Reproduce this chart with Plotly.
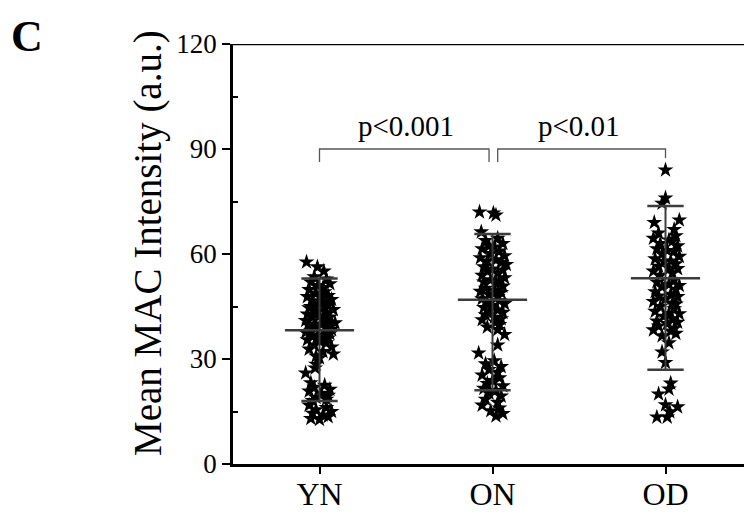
import plotly.graph_objects as go

# ---------------- data ----------------
categories = ["YN", "ON", "OD"]

yn_vals = [57.7, 56.3, 55.1,
           53.5, 52.8, 52.0, 51.5, 51.0, 50.4,
           49.8, 49.2, 48.7, 48.1, 47.8, 47.5, 47.0, 46.6, 46.1, 45.5, 45.3, 45.0,
           44.9, 44.6, 44.1, 43.7, 43.2, 42.8, 42.3, 42.0, 41.9, 41.4, 41.0, 40.5, 40.3, 40.0,
           39.9, 39.6, 39.2, 38.8, 38.4, 38.0, 37.9, 37.6, 37.2, 36.8, 36.6, 36.4, 36.0, 35.5, 35.1,
           34.6, 34.0, 33.4, 32.8, 32.1, 31.4, 30.8, 30.3,
           28.5, 27.4, 26.0,
           23.2, 22.5, 21.9, 21.3, 20.8, 20.2, 19.6, 19.0, 18.5, 18.1,
           16.8, 16.1, 15.5, 15.0, 14.5, 14.0, 13.5, 13.0, 12.7]
yn_jitter = [-0.075, -0.012, 0.025,
             -0.03, 0.04, -0.05, 0.06, -0.01, 0.02,
             -0.06, 0.03, -0.02, 0.05, -0.07, 0.01, 0.07, -0.04, 0.02, -0.01, 0.05, -0.05,
             0.03, -0.06, 0.08, -0.02, 0.04, -0.07, 0.0, 0.06, -0.04, 0.02, -0.08, 0.05, 0.09, -0.03,
             0.01, -0.06, 0.04, -0.02, 0.07, -0.05, 0.03, -0.08, 0.06, -0.01, 0.02, -0.04, 0.05, -0.07, 0.0,
             0.04, -0.03, 0.07, -0.06, 0.02, 0.08, -0.02, 0.0,
             -0.02, -0.025, -0.08,
             -0.05, 0.03, -0.03, 0.06, -0.06, 0.01, 0.05, -0.02, 0.04, -0.04,
             -0.06, 0.04, -0.02, 0.07, -0.04, 0.02, 0.05, -0.05, 0.0]

on_vals = [72.0, 71.7, 71.1, 66.3,
           64.5, 63.8, 63.0, 62.3, 62.0, 61.5, 60.8, 60.1, 59.5, 58.9, 58.3, 58.0, 57.6, 57.0,
           56.3, 55.7, 55.4, 55.1, 54.5, 53.9, 53.2, 52.6, 52.3, 52.0, 51.4, 50.8, 50.2, 49.6,
           49.3, 49.0, 48.4, 47.8, 47.2,
           46.6, 46.0, 45.8, 45.3, 44.7, 44.0, 43.7, 43.3, 42.6, 41.9, 41.5, 41.2, 40.5, 39.8,
           39.1, 38.4,
           37.0, 34.0, 31.7,
           29.5, 28.6, 27.8, 27.0, 26.2, 25.4, 24.6, 23.8, 23.0, 22.3, 21.6, 21.0,
           20.2, 19.4, 18.5, 17.6, 16.8, 16.0, 15.2, 14.4, 13.7]
on_jitter = [-0.075, 0.005, 0.02, -0.065,
             0.03, -0.04, 0.06, -0.02, 0.01, -0.06, 0.04, -0.01, 0.07, -0.07, 0.02, -0.03, 0.05, 0.08,
             -0.05, 0.0, 0.06, -0.03, 0.03, -0.06, 0.07, -0.01, 0.04, -0.05, 0.02, 0.06, -0.04, 0.01,
             -0.07, 0.05, -0.02, 0.03, -0.06,
             0.04, -0.03, 0.07, 0.0, -0.05, 0.03, -0.02, 0.06, -0.04, 0.01, 0.05, -0.06, 0.02, 0.04,
             -0.03, 0.03,
             0.07, 0.03, -0.08,
             0.01, -0.04, 0.05, -0.02, 0.03, -0.06, 0.04, 0.0, -0.03, 0.06, -0.05, 0.02,
             -0.02, 0.05, -0.04, 0.03, -0.06, 0.04, -0.01, 0.06, 0.02]

od_vals = [84.0, 76.0, 74.5,
           69.7, 69.0, 67.0,
           66.0, 65.2, 64.5, 64.0, 63.7, 63.0, 62.3, 61.5, 61.0, 60.8, 60.0, 59.3, 58.6, 58.0,
           57.9, 57.2, 56.5, 56.0, 55.8, 55.1, 54.5, 53.9,
           52.6, 52.0, 51.3, 51.0, 50.6, 49.9, 49.2, 48.5, 48.0, 47.8, 47.1, 46.4, 46.0, 45.7,
           45.0, 44.3, 43.6, 43.0, 42.9, 42.2, 41.5, 40.8, 40.5, 40.1, 39.4, 38.7, 38.3, 38.0,
           37.3, 36.6,
           34.6, 32.0, 29.0,
           23.1, 21.4, 20.0, 16.9, 16.3, 14.9, 13.4, 13.4]
od_jitter = [0.0, 0.0, -0.02,
             0.08, -0.065, 0.05,
             -0.04, 0.06, -0.07, 0.02, 0.04, -0.03, 0.07, -0.05, 0.01, 0.05, -0.02, 0.08, -0.06,
             0.03, -0.01, 0.06, -0.04, 0.02, 0.07, -0.07, 0.04, -0.03,
             0.05, -0.05, 0.02, 0.08, -0.02, 0.06, -0.06, 0.03, -0.04, 0.07, 0.0, -0.07, 0.04,
             0.06, -0.03, 0.05, -0.06, 0.02, 0.08, -0.01, 0.04, -0.05, 0.07, 0.01, -0.04, 0.05,
             -0.07, 0.03, 0.06, -0.02,
             0.02, -0.02, 0.0,
             0.03, 0.02, -0.04, 0.0, 0.07, 0.025, -0.05, 0.01]

group_vals = [yn_vals, on_vals, od_vals]
group_jitter = [yn_jitter, on_jitter, od_jitter]

means = [38.2, 46.9, 53.1]
sd_upper = [53.0, 65.7, 73.7]
sd_lower = [18.0, 21.1, 26.9]

y_ticks = [0, 30, 60, 90, 120]

comparisons = [(0, 1, "p<0.001"), (1, 2, "p<0.01")]
bracket_top = 90.0
bracket_left_leg = [86.3, 86.3]
bracket_right_leg = [86.3, 87.4]
p_label_y = 96.5

# ---------------- figure ----------------
FONT = "Liberation Serif"
LINE_COL = "#3c3c3c"
fig = go.Figure()

for i, (vals, jit) in enumerate(zip(group_vals, group_jitter)):
    xs = [i + j for j, _ in zip(jit, vals)]
    fig.add_trace(go.Scatter(
        x=xs, y=vals[:len(xs)], mode="markers",
        marker=dict(symbol="star", size=12, color="black", line=dict(width=0)),
        showlegend=False, hoverinfo="y"))

mean_hw = 0.2
cap_hw = 0.105
for i in range(len(categories)):
    fig.add_trace(go.Scatter(x=[i, i], y=[sd_lower[i], sd_upper[i]], mode="lines",
                             line=dict(color=LINE_COL, width=2), showlegend=False, hoverinfo="skip"))
    for v in (sd_lower[i], sd_upper[i]):
        fig.add_trace(go.Scatter(x=[i - cap_hw, i + cap_hw], y=[v, v], mode="lines",
                                 line=dict(color=LINE_COL, width=2.5), showlegend=False, hoverinfo="skip"))
    fig.add_trace(go.Scatter(x=[i - mean_hw, i + mean_hw], y=[means[i], means[i]], mode="lines",
                             line=dict(color=LINE_COL, width=2.5), showlegend=False, hoverinfo="skip"))

for k, (a, b, label) in enumerate(comparisons):
    xa = a + (0.0 if k == 0 else 0.03)
    xb = b - (0.02 if k == 0 else 0.0)
    fig.add_trace(go.Scatter(x=[xa, xa, xb, xb],
                             y=[bracket_left_leg[k], bracket_top, bracket_top, bracket_right_leg[k]],
                             mode="lines", line=dict(color="#555555", width=1.3),
                             showlegend=False, hoverinfo="skip"))
    fig.add_annotation(x=(a + b) / 2, y=p_label_y, text=label, showarrow=False,
                       font=dict(family=FONT, size=29, color="black"),
                       xanchor="center", yanchor="middle")

fig.add_shape(type="line", xref="paper", yref="y", x0=0, x1=1, y0=120, y1=120,
              line=dict(color="black", width=2.5))

# the page body adds an 8px offset, so the figure is sized 8px smaller
fig.update_layout(
    width=744, height=511,
    margin=dict(l=225, r=0, t=36, b=55, autoexpand=False),
    paper_bgcolor="white", plot_bgcolor="white",
    font=dict(family=FONT, color="black"),
    xaxis=dict(range=[-0.5, 2.5], tickvals=[0, 1, 2], ticktext=categories, automargin=False,
               showgrid=False, zeroline=False, showline=True, linecolor="black", linewidth=2.5,
               ticks="outside", ticklen=7, tickwidth=2, tickcolor="black", ticklabelstandoff=-7,
               tickfont=dict(family=FONT, size=32, color="black")),
    yaxis=dict(range=[0, 120], tickvals=y_ticks, automargin=False,
               showgrid=False, zeroline=False, showline=True, linecolor="black", linewidth=2.5,
               ticks="outside", ticklen=8, tickwidth=2, tickcolor="black",
               tickfont=dict(family=FONT, size=27, color="black"),
               minor=dict(ticks="inside", ticklen=5, tickwidth=2, tickcolor="black",
                          tickvals=[15, 45, 75, 105])),
)

fig.add_annotation(xref="paper", yref="paper", x=-(233 - 148) / 519, y=0.5 + 11 / 420,
                   text="Mean MAC Intensity (a.u.)", textangle=-90, showarrow=False,
                   font=dict(family=FONT, size=39, color="black"),
                   xanchor="center", yanchor="middle")
fig.add_annotation(xref="paper", yref="paper", x=-(233 - 27) / 519, y=1 + (44 - 36) / 420,
                   text="<b>C</b>", showarrow=False, borderpad=0,
                   font=dict(family=FONT, size=44, color="black"),
                   xanchor="center", yanchor="middle")

fig.write_html("out.html")
